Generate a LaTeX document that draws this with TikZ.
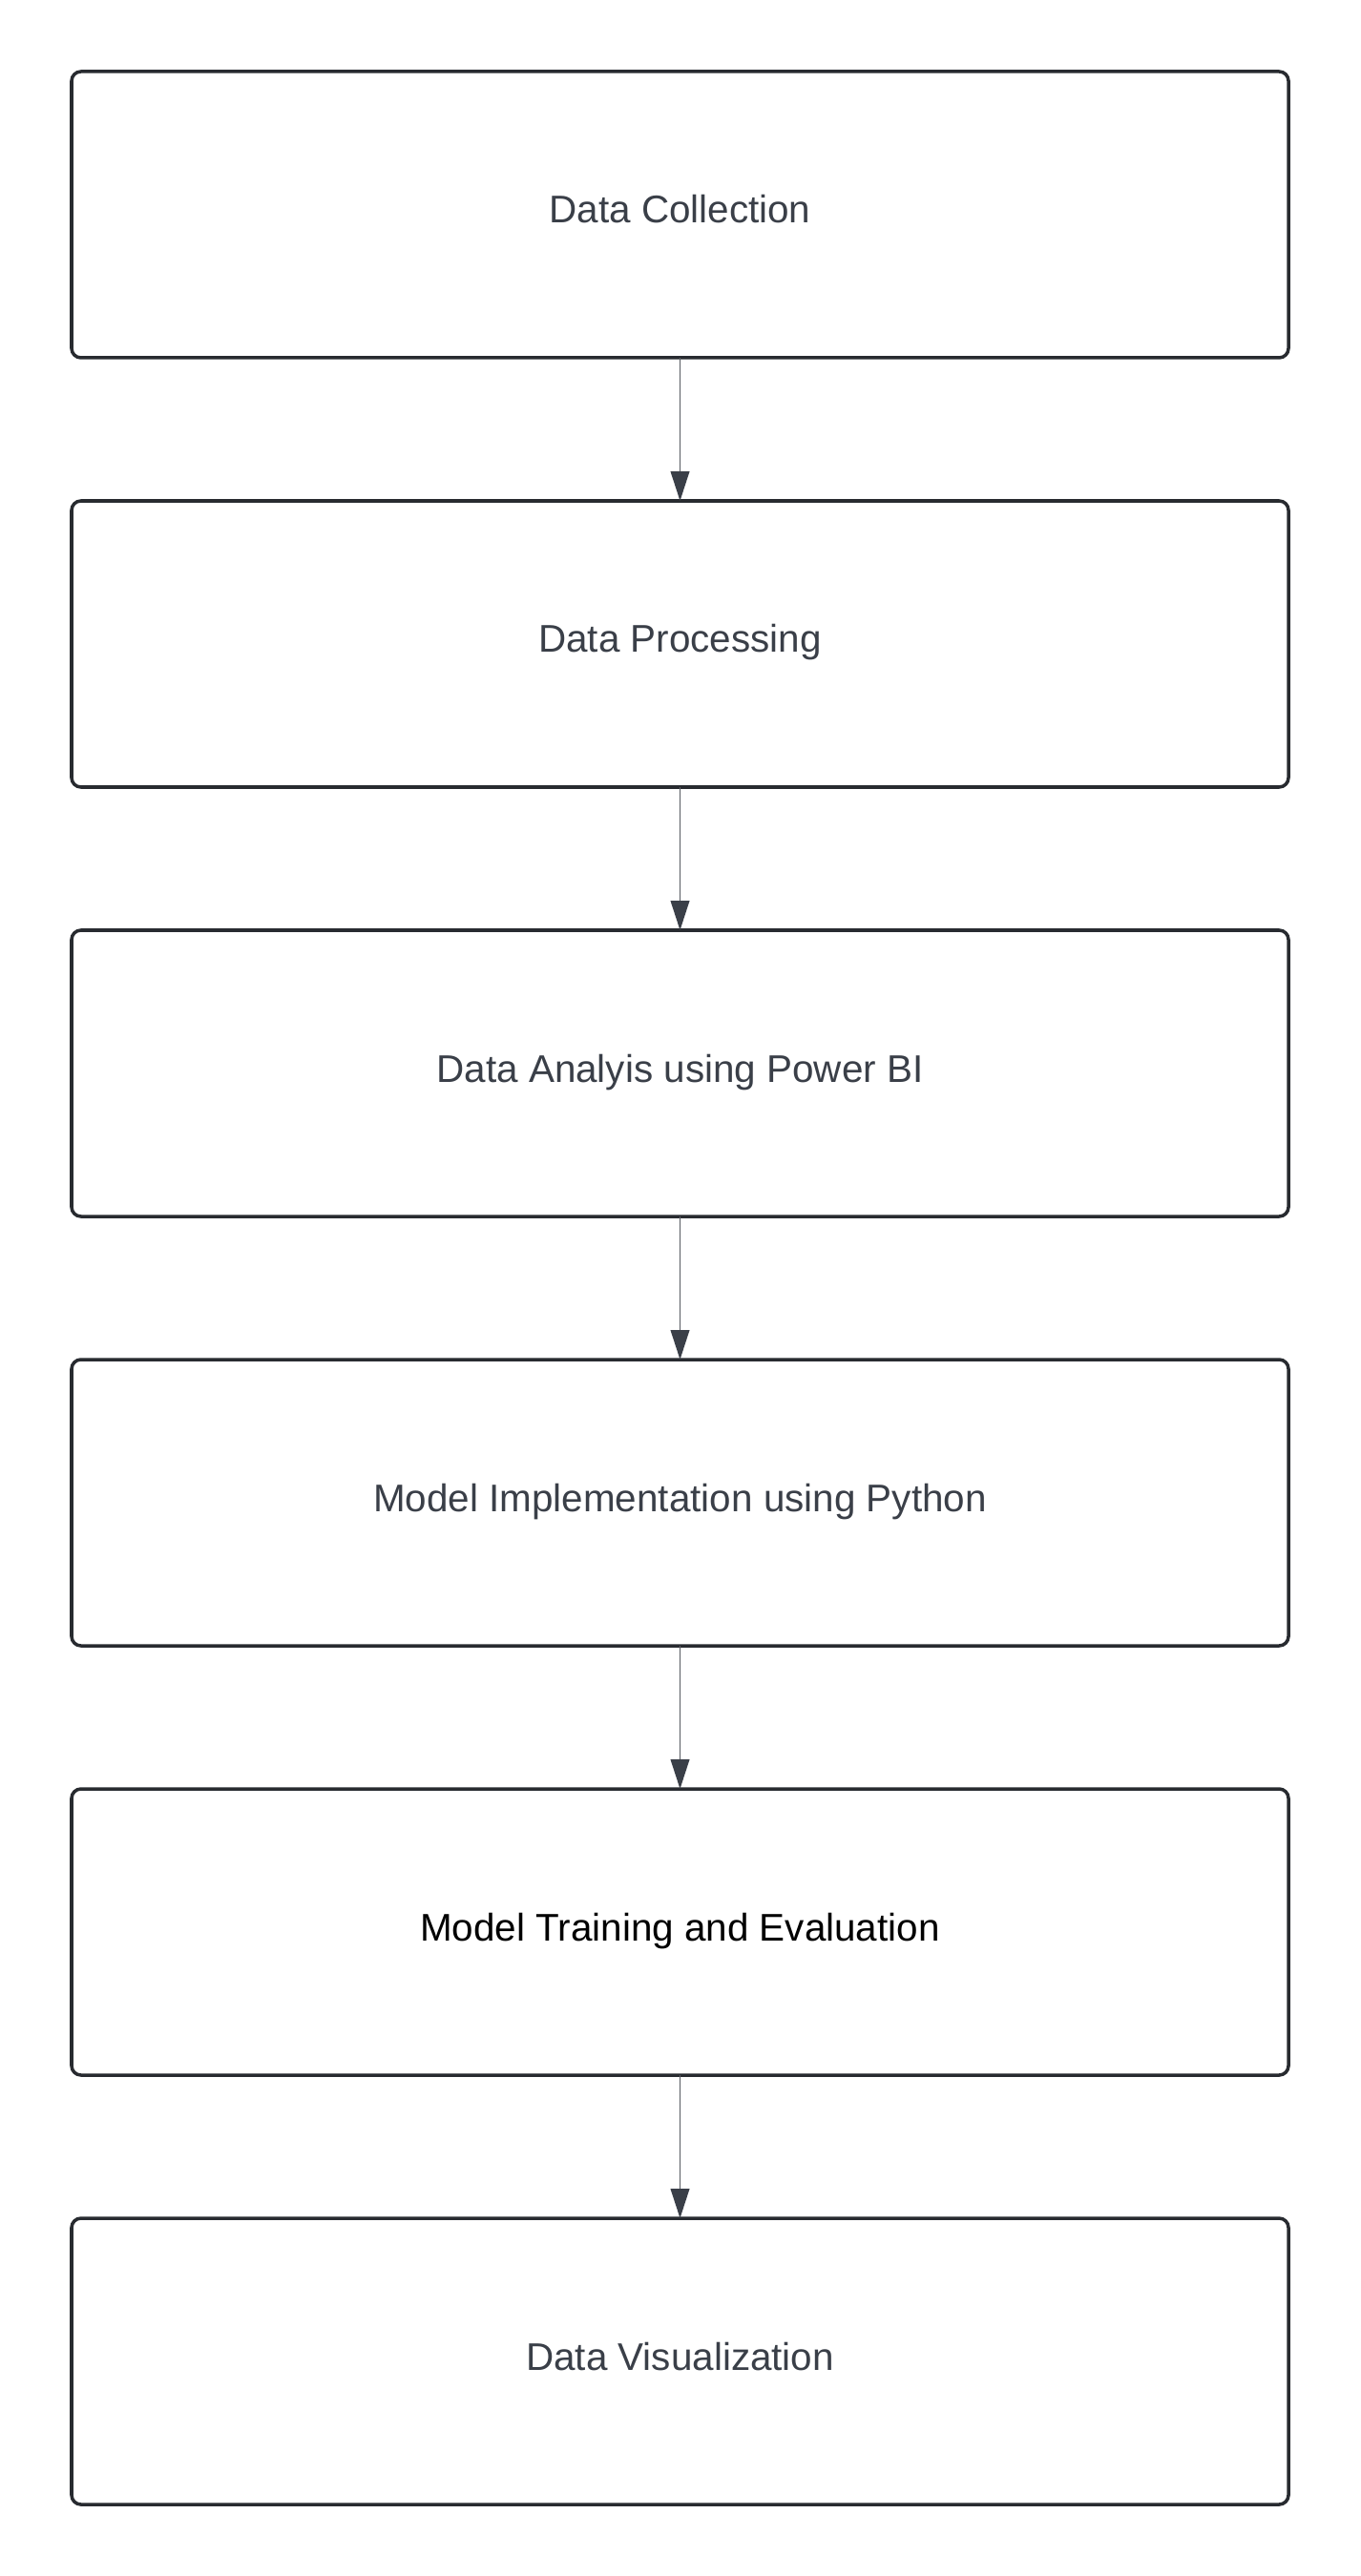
\documentclass[tikz,border=0pt]{standalone}
\usepackage{fontspec}
\setmainfont{Liberation Sans}
\usepackage{tikz}
\usetikzlibrary{positioning,arrows.meta}
\definecolor{boxline}{HTML}{282B30}
\definecolor{boxtext}{HTML}{3A3F48}
\definecolor{linkline}{HTML}{585B62}

\begin{document}
\begin{tikzpicture}
            [stage/.style={draw=boxline,line width=1pt,rounded corners=2.8pt,
                minimum width=12.75cm,minimum height=3cm,outer sep=0pt,
                text height=0.3cm,text depth=0.12cm,
                text=boxtext,font=\fontsize{11.5}{13.5}\selectfont},
            link/.style={draw=linkline,line width=0.45pt,
                arrows={-Triangle[length=8.8pt,width=5.6pt,fill=boxtext,color=boxtext]}}]
            \useasboundingbox (0,0) rectangle (14.25,-27);
            \node[stage] (collect) at (7.125,-2.25) {Data Collection};
            \node[stage,below=1.5cm of collect] (process) {Data Processing};
            \node[stage,below=1.5cm of process] (analysis) {Data Analyis using Power BI};
            \node[stage,below=1.5cm of analysis] (model) {Model Implementation using Python};
            \node[stage,below=1.5cm of model,text=black] (train) {Model Training and Evaluation};
            \node[stage,below=1.5cm of train] (visual) {Data Visualization};
            % connectors
            \draw[link] (collect) -- (process);
            \draw[link] (process) -- (analysis);
            \draw[link] (analysis) -- (model);
            \draw[link] (model) -- (train);
            \draw[link] (train) -- (visual);
        \end{tikzpicture}
\end{document}
